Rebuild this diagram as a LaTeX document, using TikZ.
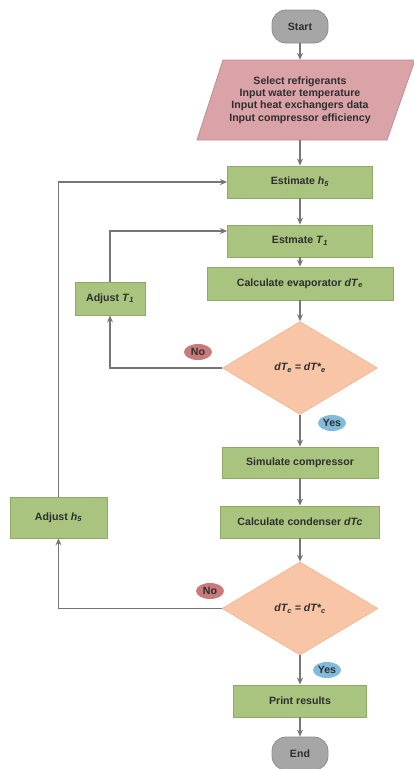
\documentclass[tikz,border=0pt]{standalone}
\usepackage{fontspec}
\setmainfont{Liberation Sans}
\usetikzlibrary{shapes.geometric,arrows.meta,calc}
\definecolor{boxgreen}{HTML}{A9C47F}
\definecolor{boxgreenb}{HTML}{8FAA66}
\definecolor{inpink}{HTML}{D9A3A8}
\definecolor{inpinkb}{HTML}{C48C93}
\definecolor{peach}{HTML}{F8C6A6}
\definecolor{peachb}{HTML}{EDB592}
\definecolor{termgray}{HTML}{A6A6A6}
\definecolor{termgrayb}{HTML}{8E8E8E}
\definecolor{nored}{HTML}{C97A7A}
\definecolor{yesblue}{HTML}{80BCDA}
\definecolor{linegray}{HTML}{767676}
\definecolor{txt}{HTML}{2E2E2E}
\begin{document}
\begin{tikzpicture}[x=1pt,y=-1pt,
  font=\fontsize{10.6}{12}\selectfont\bfseries, text=txt,
  proc/.style={draw=boxgreenb, fill=boxgreen, line width=0.8pt, minimum height=32pt, inner sep=0pt},
  term/.style={draw=termgrayb, fill=termgray, line width=0.8pt, rounded corners=14pt, minimum width=56pt, minimum height=33pt, inner sep=0pt},
  dec/.style={diamond, draw=peachb, fill=peach, line width=0.6pt, minimum width=155pt, minimum height=93pt, inner sep=0pt},
  tag/.style={ellipse, minimum width=28pt, minimum height=16pt, inner sep=0pt},
  arrowline/.style={draw=linegray, line width=1.4pt, -{Stealth[length=7pt,width=6pt]}}]
\useasboundingbox (0,0) rectangle (413,769);
\node[term] (start) at (300,26.5) {Start};
\filldraw[fill=inpink, draw=inpinkb, line width=0.8pt] (223,60) -- (415,60) -- (387,140) -- (197,140) -- cycle;
\node[align=center, font=\fontsize{10.6}{12.3}\selectfont\bfseries, minimum height=80pt, inner sep=0pt] (inp) at (300,100)
  {Select refrigerants\\Input water temperature\\Input heat exchangers data\\Input compressor efficiency};
\node[proc, minimum width=145pt] (esth) at (300,182) {Estimate \textit{h}\textsubscript{\textit{5}}};
\node[proc, minimum width=145pt] (estt) at (300,241) {Estmate \textit{T}\textsubscript{\textit{1}}};
\node[proc, minimum width=186pt, minimum height=33pt] (calce) at (300,283.5) {Calculate evaporator \textit{dT}\textsubscript{\textit{e}}};
\node[proc, minimum width=70pt, minimum height=33pt] (adjt) at (110,298.5) {Adjust \textit{T}\textsubscript{\textit{1}}};
\node[dec] (d1) at (300,368) {\textit{dT\textsubscript{e} = dT*\textsubscript{e}}};
\node[tag, fill=nored] (no1) at (198,352) {No};
\node[tag, fill=yesblue] (yes1) at (332,423) {Yes};
\node[proc, minimum width=156pt, minimum height=31pt] (sim) at (300,462.5) {Simulate compressor};
\node[proc, minimum width=159pt] (calcc) at (300,522) {Calculate condenser \textit{dTc}};
\node[proc, minimum width=97pt, minimum height=41pt] (adjh) at (58.5,517.5) {Adjust \textit{h}\textsubscript{\textit{5}}};
\node[dec, minimum width=156pt] (d2) at (300,608.5) {\textit{dT\textsubscript{c} = dT*\textsubscript{c}}};
\node[tag, fill=nored] (no2) at (210,591) {No};
\node[tag, fill=yesblue] (yes2) at (327,670) {Yes};
\node[proc, minimum width=133pt] (print) at (300,701) {Print results};
\node[term] (end) at (300,753.5) {End};
\draw[arrowline] (start) -- (inp);
\draw[arrowline] (inp) -- (esth);
\draw[arrowline] (esth) -- (estt);
\draw[arrowline] (estt) -- (calce);
\draw[arrowline] (calce) -- (d1);
\draw[arrowline] (d1) -- (sim);
\draw[arrowline] (sim) -- (calcc);
\draw[arrowline] (calcc) -- (d2);
\draw[arrowline] (d2) -- (print);
\draw[arrowline] (print) -- (end);
\draw[arrowline] (d1.west) -| (adjt.south);
\draw[arrowline] (adjt.north) |- ($(estt.west)+(0,-10)$);
\draw[arrowline] (d2.west) -| (adjh.south);
\draw[arrowline] (adjh.north) |- (esth.west);
\end{tikzpicture}
\end{document}
